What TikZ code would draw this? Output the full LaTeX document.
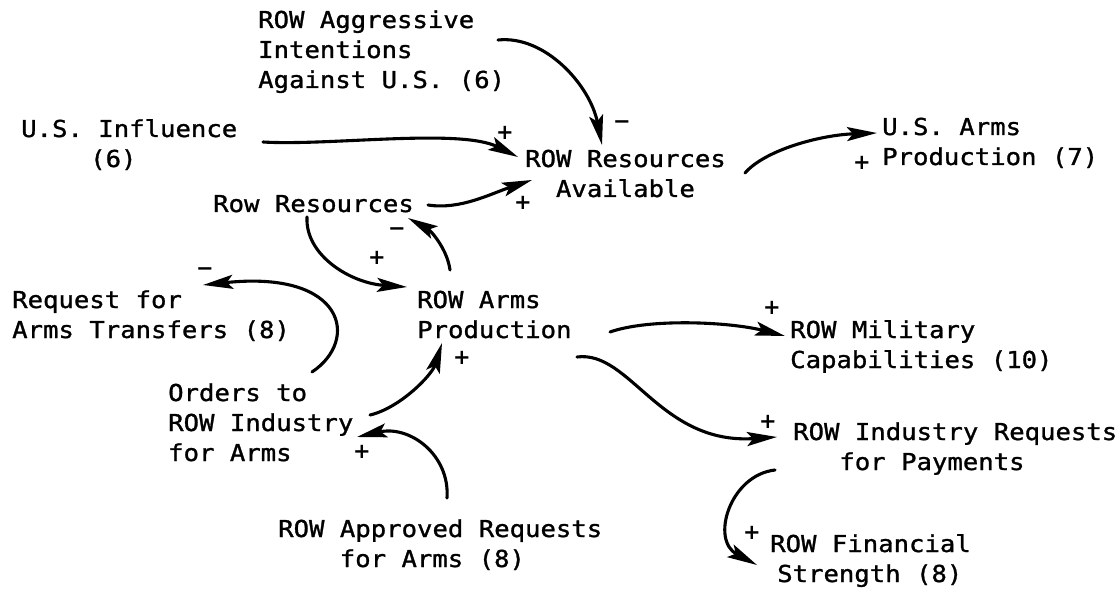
\documentclass[tikz,border=0pt]{standalone}
\usepackage{fontspec}
\usetikzlibrary{arrows.meta}
\newfontfamily\typfont[FakeStretch=1.1,FakeBold=1.2]{DejaVu Sans Mono}
\newfontfamily\signfont{DejaVu Sans}
\tikzset{
  lbl/.style={anchor=base west, inner sep=0pt, align=left,
    font=\typfont\fontsize{23.3}{30}\selectfont},
  sgn/.style={inner sep=0pt, font=\signfont\bfseries\fontsize{21}{21}\selectfont},
  arr/.style={line width=3.1pt, line cap=round,
    -{Stealth[length=30pt,width=14pt,inset=6pt]}},
}
\begin{document}
\begin{tikzpicture}[x=1pt,y=-1pt]
\fill[white] (0,0) rectangle (1120,604);
\useasboundingbox (0,0) rectangle (1120,604);
% variables (anchored at the baseline of their last line)
\node[lbl] (agg) at (258,88) {ROW Aggressive\\Intentions\\Against U.S. (6)};
\node[lbl] (usinf) at (21,167) {U.S. Influence\\\hspace*{69pt}(6)};
\node[lbl] (rra) at (525,197) {ROW Resources\\\hspace*{30.8pt}Available};
\node[lbl] (usarms) at (882,165) {U.S. Arms\\Production (7)};
\node[lbl] (rowres) at (213,212) {Row Resources};
\node[lbl] (rowarms) at (417,338) {ROW Arms\\Production};
\node[lbl] (request) at (12,338) {Request for\\Arms Transfers (8)};
\node[lbl] (orders) at (168,461) {Orders to\\ROW Industry\\for Arms};
\node[lbl] (military) at (790,368) {ROW Military\\Capabilities (10)};
\node[lbl] (indreq) at (793,470) {ROW Industry Requests\\\hspace*{46.2pt}for Payments};
\node[lbl] (approved) at (278,567) {ROW Approved Requests\\\hspace*{61.6pt}for Arms (8)};
\node[lbl] (financial) at (770,582) {ROW Financial\\\hspace*{7pt}Strength (8)};
% links
\draw[arr] ([shift={(240,-48)}]agg.base west) .. controls (545,35) and (590,85) .. ([shift={(77,-52)}]rra.base west);
\draw[arr] ([shift={(242,-25)}]usinf.base west) .. controls (330,146) and (460,128) .. ([shift={(-7,-40)}]rra.base west);
\draw[arr] ([shift={(215,-7)}]rowres.base west) .. controls (460,210) and (490,194) .. ([shift={(7,-17)}]rra.base west);
\draw[arr] ([shift={(220,-24)}]rra.base west) .. controls (765,150) and (820,135) .. ([shift={(-5,-32)}]usarms.base west);
\draw[arr] ([shift={(94,5)}]rowres.base west) .. controls (305,255) and (350,283) .. ([shift={(-10,-51)}]rowarms.base west);
\draw[arr] ([shift={(33,-68)}]rowarms.base west) .. controls (447,248) and (430,230) .. ([shift={(195,6)}]rowres.base west);
\draw[arr] ([shift={(144,-89)}]orders.base west) .. controls (360,340) and (345,270) .. ([shift={(191,-53)}]request.base west);
\draw[arr] ([shift={(202,-46)}]orders.base west) .. controls (400,408) and (432,375) .. ([shift={(25,5)}]rowarms.base west);
\draw[arr] ([shift={(169,-69)}]approved.base west) .. controls (450,455) and (410,425) .. ([shift={(189,-24)}]orders.base west);
\draw[arr] ([shift={(193,-6)}]rowarms.base west) .. controls (650,318) and (730,322) .. ([shift={(-5,-32)}]military.base west);
\draw[arr] ([shift={(160,19)}]rowarms.base west) .. controls (630,350) and (660,445) .. ([shift={(-16,-33)}]indreq.base west);
\draw[arr] ([shift={(-18,0)}]indreq.base west) .. controls (730,475) and (710,540) .. ([shift={(-13,-17)}]financial.base west);
% polarities
\node[sgn] (p1) at (505,133) {+};
\node[sgn] (p2) at (622,125) {−};
\node[sgn] (p3) at (523,203) {+};
\node[sgn] (p4) at (862,163) {+};
\node[sgn] (p5) at (397,232) {−};
\node[sgn] (p6) at (377,258) {+};
\node[sgn] (p7) at (205,272) {−};
\node[sgn] (p8) at (462,358) {+};
\node[sgn] (p9) at (362,452) {+};
\node[sgn] (p10) at (772,308) {+};
\node[sgn] (p11) at (768,422) {+};
\node[sgn] (p12) at (752,533) {+};
\end{tikzpicture}
\end{document}
